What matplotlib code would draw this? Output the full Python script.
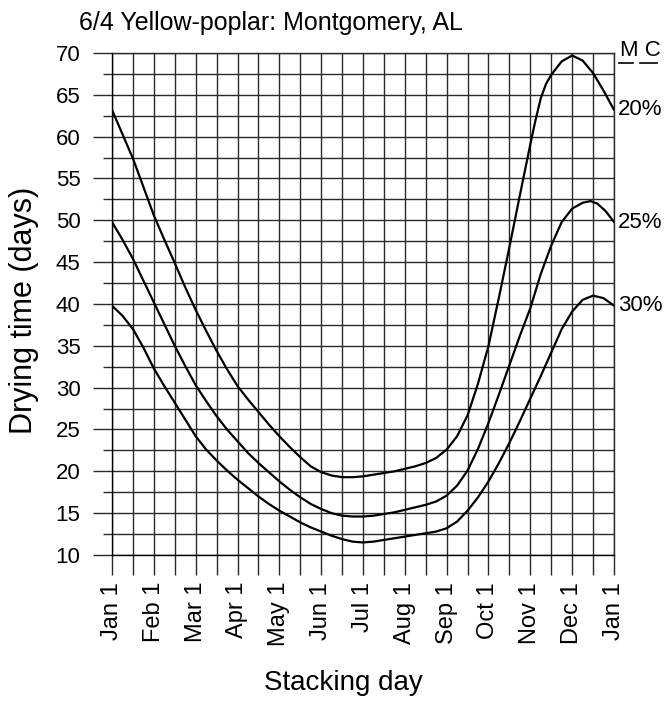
import matplotlib
matplotlib.use("Agg")
import matplotlib.pyplot as plt
from matplotlib.ticker import MultipleLocator, FixedLocator

plt.rcParams['font.family'] = ['Liberation Sans', 'DejaVu Sans']

# Data (x in months since Jan 1)
month_labels = ["Jan 1", "Feb 1", "Mar 1", "Apr 1", "May 1", "Jun 1", "Jul 1",
                "Aug 1", "Sep 1", "Oct 1", "Nov 1", "Dec 1", "Jan 1"]

x_mc20 = [0, 0.25, 0.5, 0.75, 1.0, 1.25, 1.5, 1.75, 2.0, 2.25, 2.5, 2.75, 3.0, 3.25,
          3.5, 3.75, 4.0, 4.25, 4.5, 4.75, 5.0, 5.25, 5.5, 5.75, 6.0, 6.25, 6.5, 6.75,
          7.0, 7.25, 7.5, 7.75, 8.0, 8.25, 8.5, 8.75, 9.0, 9.25, 9.5, 9.75, 10.0,
          10.125, 10.25, 10.375, 10.5, 10.75, 11.0, 11.25, 11.5, 11.75, 12.0]
y_mc20 = [63.2, 60.3, 57.4, 54.0, 50.6, 47.7, 44.9, 42.0, 39.3, 36.8, 34.4, 32.2, 30.2,
          28.6, 27.1, 25.6, 24.2, 22.9, 21.7, 20.6, 19.9, 19.5, 19.3, 19.3, 19.4, 19.6,
          19.8, 20.0, 20.3, 20.6, 21.0, 21.6, 22.6, 24.2, 26.7, 30.5, 35.0, 40.8, 46.8,
          53.0, 59.1, 62.0, 64.6, 66.3, 67.4, 69.0, 69.7, 69.1, 67.6, 65.5, 63.2]

x_mc25 = [0, 0.25, 0.5, 0.75, 1.0, 1.25, 1.5, 1.75, 2.0, 2.25, 2.5, 2.75, 3.0, 3.25,
          3.5, 3.75, 4.0, 4.25, 4.5, 4.75, 5.0, 5.25, 5.5, 5.75, 6.0, 6.25, 6.5, 6.75,
          7.0, 7.25, 7.5, 7.75, 8.0, 8.25, 8.5, 8.75, 9.0, 9.25, 9.5, 9.75, 10.0,
          10.25, 10.5, 10.75, 11.0, 11.25, 11.44, 11.6, 11.8, 12.0]
y_mc25 = [49.8, 47.7, 45.4, 42.8, 40.2, 37.6, 35.0, 32.6, 30.3, 28.4, 26.6, 25.0, 23.6,
          22.2, 21.0, 19.9, 18.8, 17.8, 16.9, 16.1, 15.5, 15.0, 14.7, 14.6, 14.6, 14.7,
          14.9, 15.1, 15.4, 15.7, 16.0, 16.4, 17.1, 18.3, 20.1, 22.7, 25.8, 29.2, 32.7,
          36.2, 39.5, 43.6, 47.0, 49.8, 51.4, 52.1, 52.3, 52.0, 51.1, 49.8]

x_mc30 = [0, 0.25, 0.5, 0.75, 1.0, 1.25, 1.5, 1.75, 2.0, 2.25, 2.5, 2.75, 3.0, 3.25,
          3.5, 3.75, 4.0, 4.25, 4.5, 4.75, 5.0, 5.25, 5.5, 5.75, 6.0, 6.25, 6.5, 6.75,
          7.0, 7.25, 7.5, 7.75, 8.0, 8.25, 8.5, 8.75, 9.0, 9.25, 9.5, 9.75, 10.0,
          10.25, 10.5, 10.75, 11.0, 11.25, 11.5, 11.75, 12.0]
y_mc30 = [39.8, 38.6, 37.0, 34.8, 32.3, 30.2, 28.2, 26.2, 24.2, 22.6, 21.3, 20.1, 19.0,
          18.0, 17.0, 16.1, 15.3, 14.6, 13.9, 13.3, 12.8, 12.3, 11.9, 11.6, 11.5, 11.6,
          11.8, 12.0, 12.2, 12.4, 12.6, 12.8, 13.2, 14.0, 15.3, 16.9, 18.8, 21.0, 23.4,
          26.0, 28.7, 31.4, 34.2, 37.0, 39.1, 40.5, 41.0, 40.7, 39.8]

series = [("20%", x_mc20, y_mc20), ("25%", x_mc25, y_mc25), ("30%", x_mc30, y_mc30)]
y_ticks = list(range(10, 75, 5))

W, H = 670, 702
fig = plt.figure(figsize=(W / 100, H / 100), dpi=100)
L, R, T, B = 112, 614, 53, 555
ax = fig.add_axes([L / W, 1 - B / H, (R - L) / W, (B - T) / H])

gcol = "#2a2a2a"
ax.set_xlim(0, 12)
ax.set_ylim(10, 70)
ax.xaxis.set_major_locator(FixedLocator(range(13)))
ax.xaxis.set_minor_locator(MultipleLocator(0.5))
ax.yaxis.set_major_locator(FixedLocator(y_ticks))
ax.yaxis.set_minor_locator(MultipleLocator(2.5))
ax.grid(True, which="both", color=gcol, linewidth=1.0)
ax.set_axisbelow(True)
for s in ax.spines.values():
    s.set_color(gcol)
    s.set_linewidth(1.0)
ax.spines["left"].set_color("black")
ax.spines["bottom"].set_color("black")

ax.tick_params(axis="x", which="both", length=14.4, width=1.0, color=gcol,
               direction="out", pad=5, labelsize=17)
ax.tick_params(axis="y", which="major", length=13.7, width=1.0, color=gcol,
               direction="out", pad=9, labelsize=16)
ax.tick_params(axis="y", which="minor", length=6.5, width=1.0, color=gcol,
               direction="out")
ax.set_xticklabels(month_labels, rotation=90, va="top")
ax.set_yticklabels([str(v) for v in y_ticks])

for name, xs, ys in series:
    ax.plot(xs, ys, color="black", linewidth=1.6, solid_joinstyle="round",
            solid_capstyle="round", zorder=5)
    ax.annotate(name, xy=(12, ys[-1]), xytext=(3, 0), textcoords="offset points",
                fontsize=16, va="center", ha="left")

fig.text(620 / W, 1 - 51 / H, "M C", fontsize=16, ha="left", va="center")
fig.add_artist(plt.Line2D([619 / W, 633 / W], [1 - 63 / H, 1 - 63 / H],
                          color="black", linewidth=1.2))
fig.add_artist(plt.Line2D([640 / W, 657 / W], [1 - 63 / H, 1 - 63 / H],
                          color="black", linewidth=1.2))

fig.text(271 / W, 1 - 23 / H, "6/4 Yellow-poplar: Montgomery, AL", fontsize=18,
         ha="center", va="center")
fig.text(24 / W, 1 - 310 / H, "Drying time (days)", fontsize=22, rotation=90,
         ha="center", va="center")
fig.text(343 / W, 1 - 683 / H, "Stacking day", fontsize=20, ha="center", va="center")

fig.savefig("out.png", dpi=100)
